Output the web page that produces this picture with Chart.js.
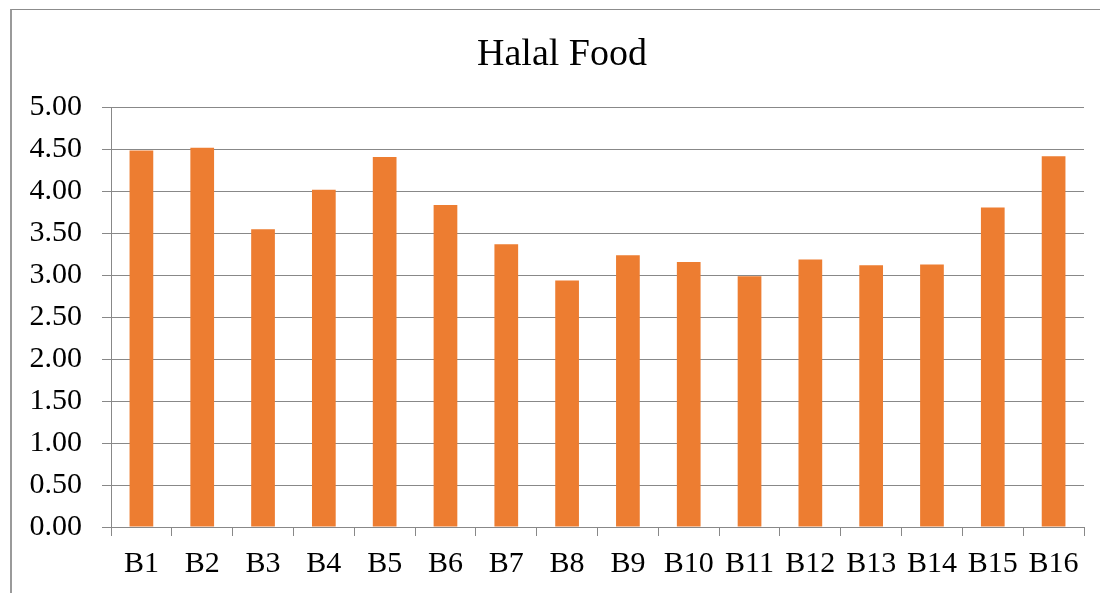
<!DOCTYPE html>
<html>
<head>
<meta charset="utf-8">
<script src="https://cdn.jsdelivr.net/npm/chart.js@4"></script>
<style>
  html, body { margin: 0; padding: 0; background: #fff; }
  #wrap { position: relative; width: 1100px; height: 593px; }
  #frame { position: absolute; left: 10px; top: 9px; right: 0; bottom: 0;
           border-top: 1.5px solid #8c8c8c; border-left: 2px solid #9a9a9a; }
  canvas { position: absolute; left: 0; top: 0; }
</style>
</head>
<body>
<div id="wrap">
  <div id="frame"></div>
  <canvas id="chart" width="1100" height="593"></canvas>
</div>
<script>
"use strict";

const LABELS = ["B1", "B2", "B3", "B4", "B5", "B6", "B7", "B8",
                "B9", "B10", "B11", "B12", "B13", "B14", "B15", "B16"];
const VALUES = [4.49, 4.52, 3.55, 4.02, 4.41, 3.84, 3.37, 2.94,
                3.24, 3.16, 2.99, 3.19, 3.12, 3.13, 3.81, 4.42];
const Y_MIN = 0;
const Y_MAX = 5;
const Y_STEP = 0.5;

const COLORS = {
  bar: "#ed7d31",
  grid: "#888888",
  text: "#000000",
};

const FONT = "'Liberation Serif', 'Times New Roman', serif";

// the original title sits a bit right of the canvas centre
const titleShift = {
  id: "titleShift",
  afterLayout(chart) {
    if (chart.titleBlock) chart.titleBlock.left = 40;
  },
};

new Chart(document.getElementById("chart"), {
  type: "bar",
  data: {
    labels: LABELS,
    datasets: [{
      label: "Halal Food",
      data: VALUES,
      backgroundColor: COLORS.bar,
      borderWidth: 0,
      barPercentage: 0.39,
      categoryPercentage: 1,
    }],
  },
  options: {
    responsive: false,
    animation: false,
    layout: { padding: { left: 0, right: 16, top: 0, bottom: 0 } },
    plugins: {
      legend: { display: false },
      tooltip: { enabled: false },
      title: {
        display: true,
        text: "Halal Food",
        color: COLORS.text,
        font: { family: FONT, size: 38, weight: "normal", lineHeight: 1.2 },
        padding: { top: 32, bottom: 30 },
      },
    },
    scales: {
      x: {
        grid: { display: true, drawOnChartArea: false, drawTicks: true, tickLength: 9, color: COLORS.grid, offset: true },
        border: { color: COLORS.grid, width: 1 },
        ticks: { color: COLORS.text, font: { family: FONT, size: 30 }, padding: 10, maxRotation: 0, autoSkip: false },
        afterFit: s => { s.height = 66; },
      },
      y: {
        min: Y_MIN,
        max: Y_MAX,
        grid: { color: COLORS.grid, tickLength: 9 },
        border: { color: COLORS.grid, width: 1 },
        ticks: {
          stepSize: Y_STEP,
          color: COLORS.text,
          font: { family: FONT, size: 30 },
          padding: 20,
          callback: v => Number(v).toFixed(2),
        },
        afterFit: s => { s.width = 111; },
      },
    },
  },
  plugins: [titleShift],
});
</script>
</body>
</html>
